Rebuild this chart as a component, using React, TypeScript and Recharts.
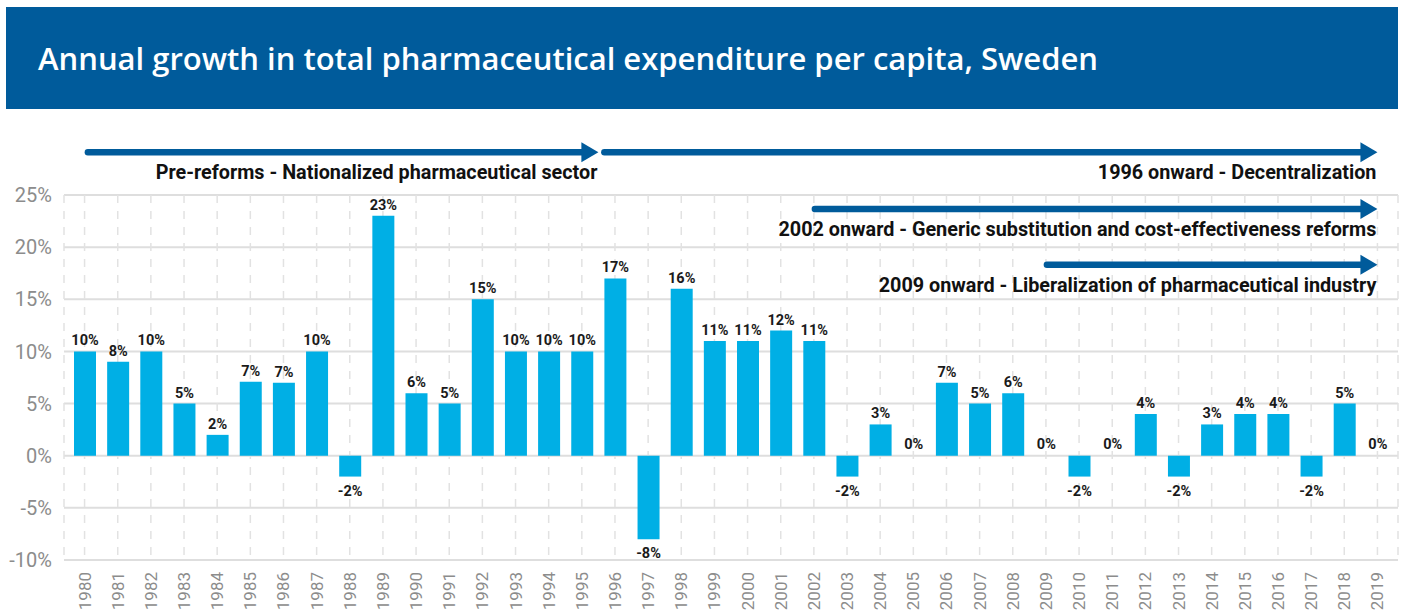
import React from 'react';
import {
  BarChart,
  Bar,
  Cell,
  XAxis,
  YAxis,
  CartesianGrid,
  LabelList,
  ReferenceLine,
} from 'recharts';

const years = [
  '1980', '1981', '1982', '1983', '1984', '1985', '1986', '1987', '1988', '1989',
  '1990', '1991', '1992', '1993', '1994', '1995', '1996', '1997', '1998', '1999',
  '2000', '2001', '2002', '2003', '2004', '2005', '2006', '2007', '2008', '2009',
  '2010', '2011', '2012', '2013', '2014', '2015', '2016', '2017', '2018', '2019',
];

const growth = [
  10, 9, 10, 5, 2, 7.1, 7, 10, -2, 23,
  6, 5, 15, 10, 10, 10, 17, -8, 16, 11,
  11, 12, 11, -2, 3, 0, 7, 5, 6, 0,
  -2, 0, 4, -2, 3, 4, 4, -2, 5, 0,
];

const growthLabels = [
  '10%', '8%', '10%', '5%', '2%', '7%', '7%', '10%', '-2%', '23%',
  '6%', '5%', '15%', '10%', '10%', '10%', '17%', '-8%', '16%', '11%',
  '11%', '12%', '11%', '-2%', '3%', '0%', '7%', '5%', '6%', '0%',
  '-2%', '0%', '4%', '-2%', '3%', '4%', '4%', '-2%', '5%', '0%',
];

const yTicks = [-10, -5, 0, 5, 10, 15, 20, 25];

// reform periods drawn as arrows above the bars (x in years, y in % units)
const periodText = [
  'Pre-reforms - Nationalized pharmaceutical sector',
  '1996 onward - Decentralization',
  '2002 onward - Generic substitution and cost-effectiveness reforms',
  '2009 onward - Liberalization of pharmaceutical industry',
];
const periodStart = [1980.1, 1995.68, 2002.03, 2009.03];
const periodEnd = [1995.5, 2019, 2019, 2019];
const periodLevel = [29.1, 29.1, 23.65, 18.3];

const BAR = '#00afe5';
const NAVY = '#005b9b';
const GRAY = '#8c8c8c';

const data = years.map((year, i) => ({
  year,
  yr: Number(year),
  value: growth[i],
  label: growthLabels[i],
}));

const renderBarLabel = (props: any) => {
  const { x, y, width, height, value } = props;
  const neg = String(value).startsWith('-');
  const top = Math.min(y, y + height);
  const bottom = Math.max(y, y + height);
  const cx = x + width / 2;
  const ty = neg ? bottom + 19 : top - 6;
  return (
    <text
      x={cx}
      y={ty}
      textAnchor="middle"
      fill="#1a1a1a"
      fontSize={14.5}
      fontWeight={700}
      fontFamily="Roboto, sans-serif"
    >
      {value}
    </text>
  );
};

const renderYearTick = (props: any) => {
  const { x, y, payload } = props;
  const ty = y + 12;
  return (
    <text
      x={x}
      y={ty}
      transform={`rotate(-90, ${x}, ${ty})`}
      textAnchor="end"
      dominantBaseline="central"
      fill={GRAY}
      fontSize={17}
      fontFamily="Roboto, sans-serif"
    >
      {payload.value}
    </text>
  );
};

const Arrow = (props: any) => {
  const { x1, y1, x2, text } = props;
  const head = 17;
  return (
    <g>
      <line
        x1={x1}
        y1={y1}
        x2={x2 - head + 2}
        y2={y1}
        stroke={NAVY}
        strokeWidth={6.5}
        strokeLinecap="round"
      />
      <polygon points={`${x2 - head},${y1 - 10} ${x2},${y1} ${x2 - head},${y1 + 10}`} fill={NAVY} />
      {text ? (
        <text
          x={x2 - 1}
          y={y1 + 27}
          textAnchor="end"
          fill="#111"
          fontSize={19.8}
          fontWeight={700}
          fontFamily="Roboto, sans-serif"
        >
          {text}
        </text>
      ) : null}
    </g>
  );
};

export default function App() {
  return (
    <div style={{ position: 'absolute', left: 0, top: 0, width: 1401, height: 615, background: '#fff' }}>
      <BarChart
        width={1401}
        height={615}
        data={data}
        margin={{ top: 195, right: 3, bottom: 5, left: 0 }}
        barSize={22}
      >
        <CartesianGrid vertical={false} stroke="#dedede" strokeWidth={2} />
        <CartesianGrid horizontal={false} stroke="#e2e2e2" strokeWidth={1.5} strokeDasharray="8 8" />
        <XAxis
          dataKey="year"
          interval={0}
          axisLine={false}
          tickLine={false}
          tickSize={0}
          tickMargin={0}
          height={50}
          padding={{ left: 4, right: 4 }}
          tick={renderYearTick}
        />
        <XAxis
          xAxisId="num"
          dataKey="yr"
          type="number"
          domain={[1979.5, 2019.5]}
          allowDataOverflow
          padding={{ left: 4, right: 4 }}
          hide
        />
        <YAxis
          domain={[-10, 25]}
          ticks={yTicks}
          width={64}
          axisLine={false}
          tickLine={false}
          tickSize={0}
          tickMargin={12}
          tickFormatter={(v: number) => `${v}%`}
          tick={{ fill: GRAY, fontSize: 20, fontFamily: 'Roboto, sans-serif' }}
        />
        <Bar dataKey="value" fill={BAR} minPointSize={0.5} isAnimationActive={false}>
          {data.map((d) => (
            <Cell key={d.year} fill={d.value === 0 ? 'transparent' : BAR} />
          ))}
          <LabelList dataKey="label" content={renderBarLabel} />
        </Bar>
        {periodText.map((t, i) => (
          <ReferenceLine
            key={t}
            xAxisId="num"
            ifOverflow="visible"
            segment={[
              { x: periodStart[i], y: periodLevel[i] },
              { x: periodEnd[i], y: periodLevel[i] },
            ]}
            shape={(p: any) => <Arrow {...p} text={t} />}
          />
        ))}
      </BarChart>
      <div
        style={{
          position: 'absolute',
          left: 6,
          top: 7,
          width: 1392,
          height: 102,
          background: NAVY,
          color: '#fff',
          display: 'flex',
          alignItems: 'center',
          paddingLeft: 32,
          boxSizing: 'border-box',
          fontFamily: '"Open Sans", sans-serif',
          fontSize: 31,
          fontWeight: 600,
        }}
      >
        Annual growth in total pharmaceutical expenditure per capita, Sweden
      </div>
    </div>
  );
}
